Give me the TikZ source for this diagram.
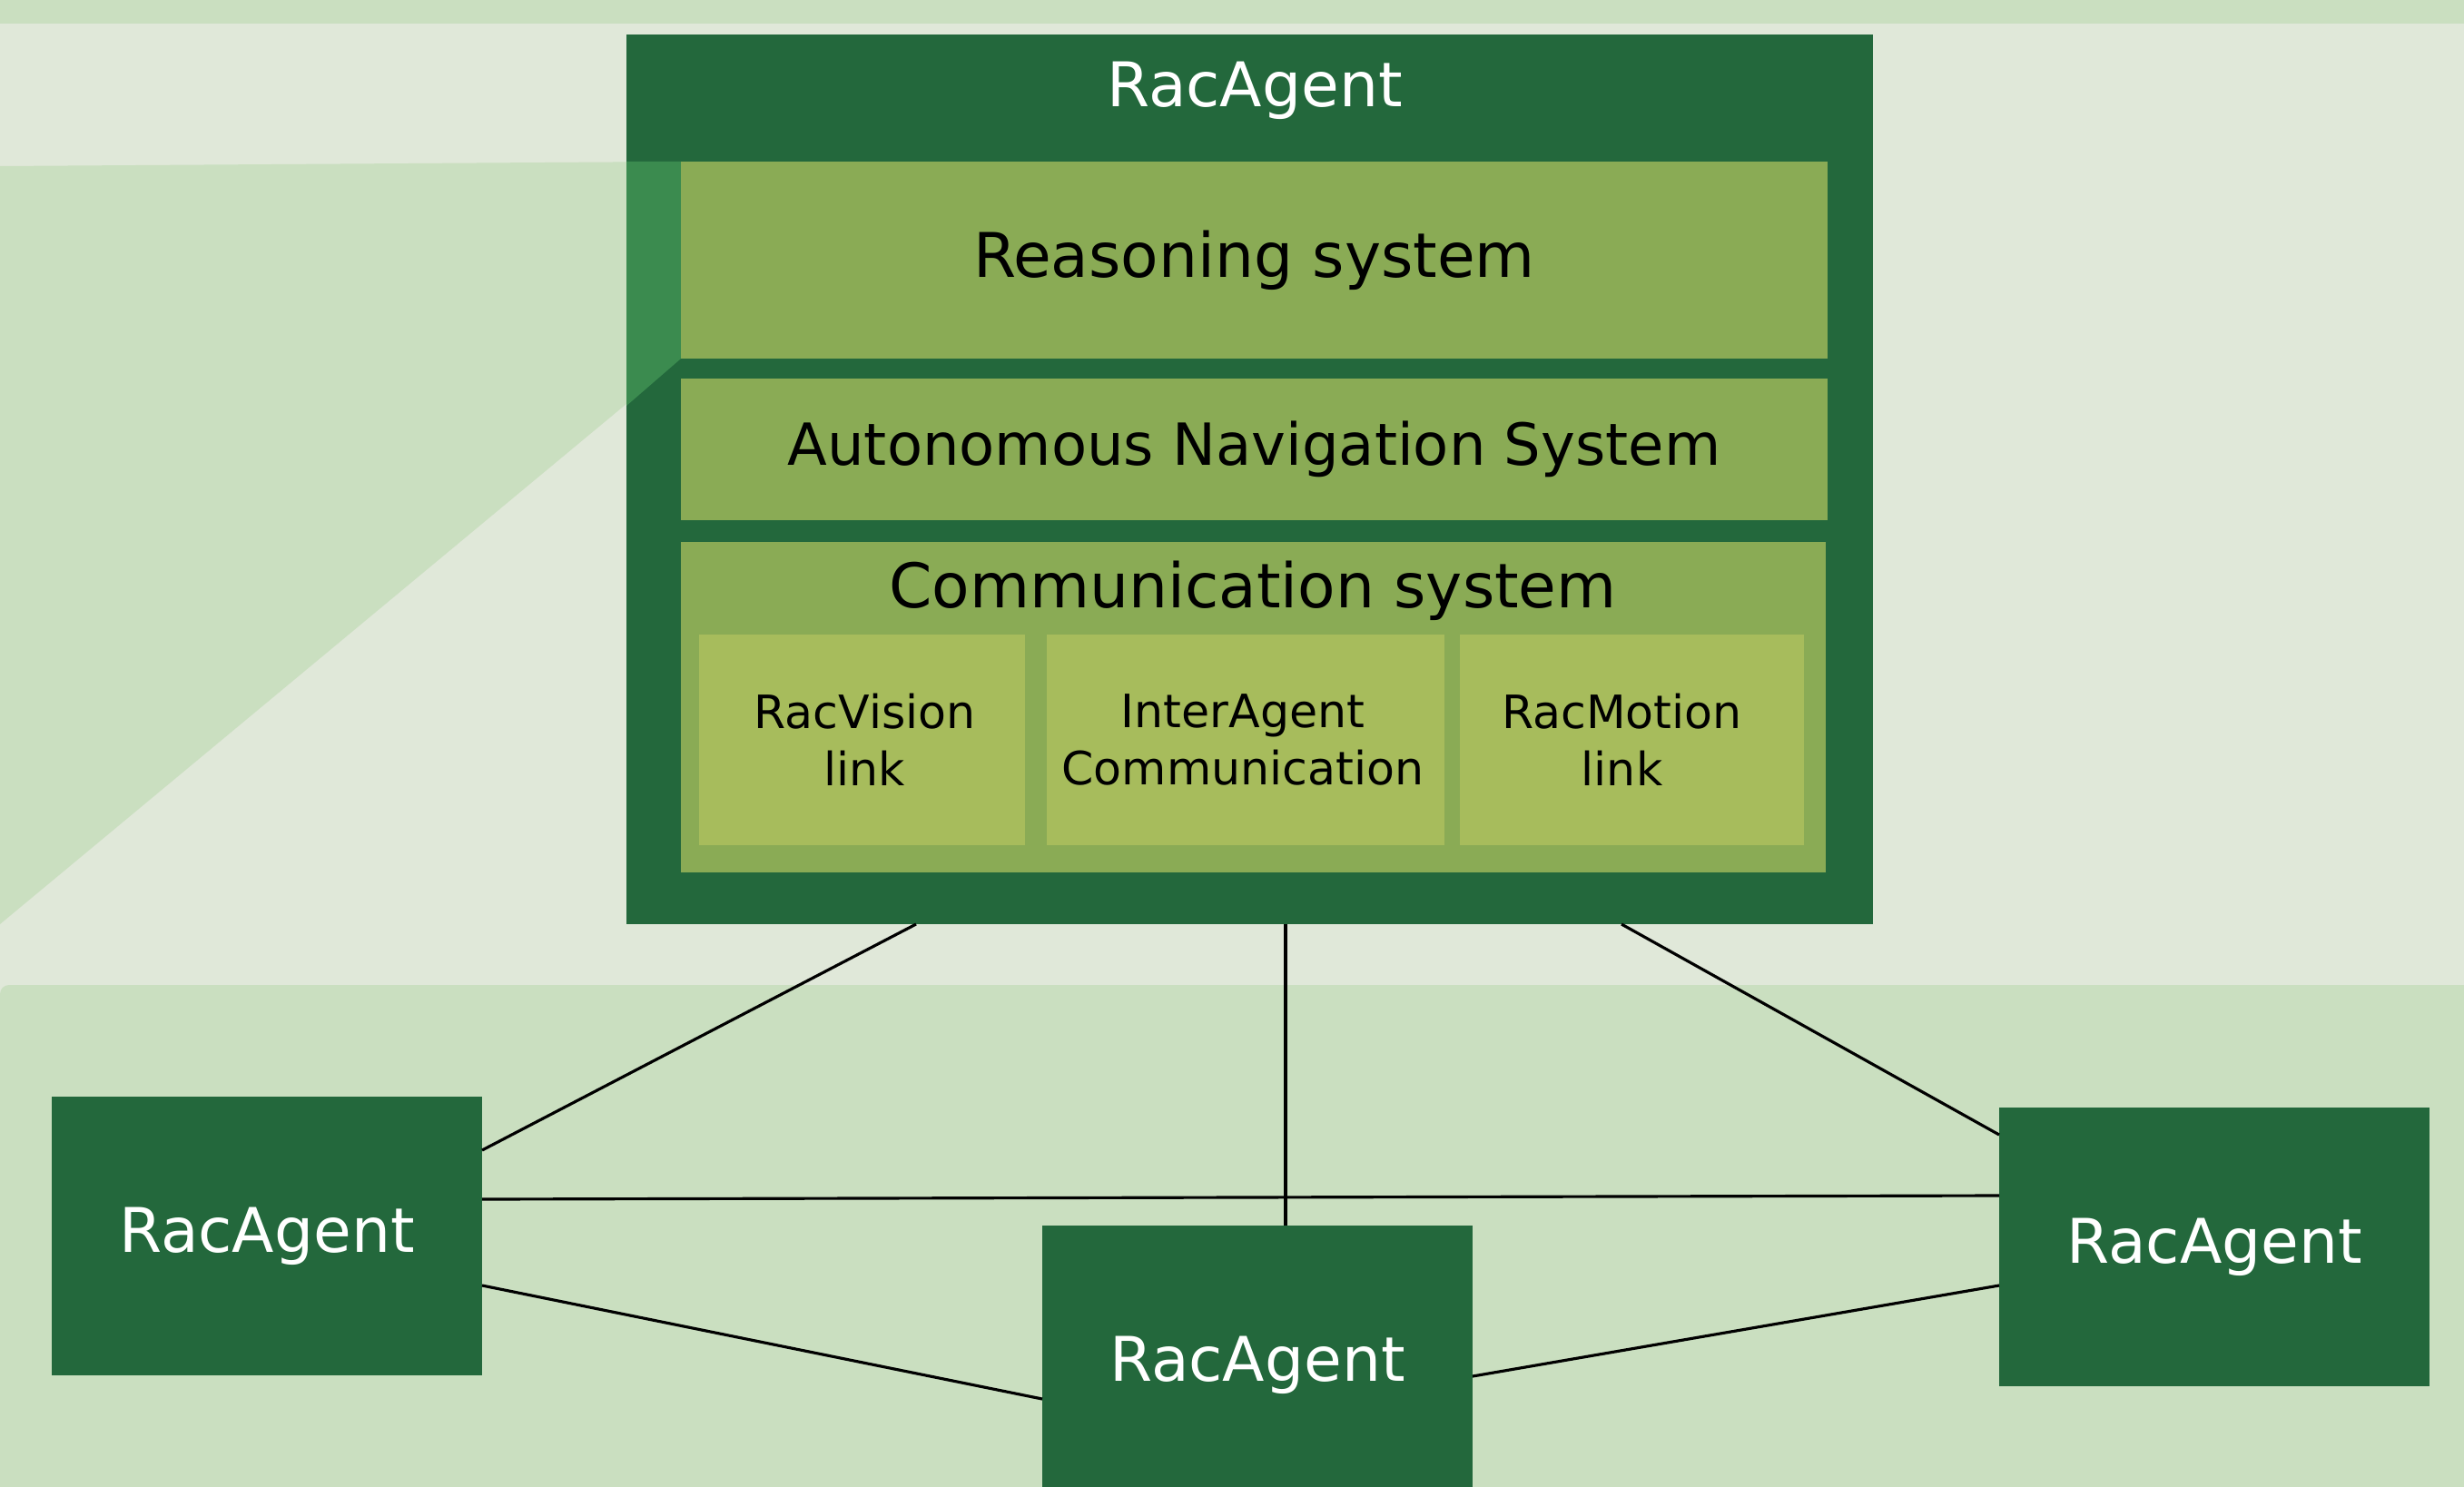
\documentclass[tikz,border=0pt]{standalone}
\usepackage{fontspec}
\setmainfont{DejaVu Sans}
\definecolor{bgpale}{HTML}{E0E8D9}
\definecolor{bandgreen}{HTML}{CADFC0}
\definecolor{racdark}{HTML}{23683C}
\definecolor{raclens}{HTML}{3B8B4F}
\definecolor{racolive}{HTML}{8AAB55}
\definecolor{raclight}{HTML}{A7BC5C}
\begin{document}
\begin{tikzpicture}[every node/.style={inner sep=0pt,outer sep=0pt},
  bigfont/.style={font=\fontsize{19.3}{23}\selectfont},
  agentbox/.style={bigfont,fill=racdark,text=white,minimum width=4.74cm,minimum height=3.07cm},
  sysbox/.style={bigfont,fill=racolive,minimum width=12.63cm},
  linkbox/.style={fill=raclight,minimum height=2.32cm},
  linktext/.style={align=center,font=\fontsize{14.4}{18}\selectfont},
  wire/.style={line width=0.9pt}]
  \useasboundingbox (0,0) rectangle (27.14,-16.37);
  \clip (0,0) rectangle (27.14,-16.37);
  % backdrop
  \fill[bgpale] (0,0) rectangle (27.14,-16.37);
  \fill[bandgreen] (0,0) rectangle (27.14,-0.26);
  \fill[bandgreen] (0,-1.83) -- (7.5,-1.78) -- (7.5,-3.95) -- (0,-10.18) -- cycle;
  \fill[bandgreen,rounded corners=0.1cm] (0,-10.85) rectangle (27.5,-17);
  % the zoomed agent
  \node[fill=racdark,minimum width=13.73cm,minimum height=9.8cm] (agent) at (13.765,-5.28) {};
  \node[bigfont,text=white] (title) at (13.82,-1.0) {RacAgent};
  \fill[raclens] (6.9,-1.78) -- (7.5,-1.78) -- (7.5,-3.95) -- (6.9,-4.47) -- cycle;
  \node[sysbox,minimum height=2.17cm] (reason) at (13.815,-2.865) {Reasoning system};
  \node[sysbox,minimum height=1.56cm,font=\fontsize{18.2}{22}\selectfont] (nav) at (13.815,-4.95) {Autonomous Navigation System};
  \node[fill=racolive,minimum width=12.61cm,minimum height=3.64cm] (comm) at (13.805,-7.79) {};
  \node[bigfont] (commtitle) at (13.8,-6.51) {Communication system};
  \foreach \nm/\x/\w/\dx/\txt in {vision/9.495/3.59/0.03/{RacVision\\link},
    inter/13.72/4.38/-0.03/{InterAgent\\Communication},
    motion/17.975/3.79/-0.11/{RacMotion\\link}} {
    \node[linkbox,minimum width=\w cm] (\nm) at (\x,-8.15) {};
    \node[linktext] at ([xshift=\dx cm]\nm.center) {\txt};
  }
  % other agents
  \node[agentbox] (ag1) at (2.94,-13.615) {RacAgent};
  \node[agentbox] (ag2) at (13.85,-15.035) {RacAgent};
  \node[agentbox] (ag3) at (24.39,-13.735) {RacAgent};
  \draw[wire] ([xshift=-3.675cm]agent.south) -- ([yshift=0.945cm]ag1.east);
  \draw[wire] ([xshift=0.395cm]agent.south) -- ([xshift=0.31cm]ag2.north);
  \draw[wire] ([xshift=4.095cm]agent.south) -- ([yshift=1.235cm]ag3.west);
  \draw[wire] ([yshift=0.405cm]ag1.east) -- ([yshift=0.565cm]ag3.west);
  \draw[wire] ([yshift=-0.545cm]ag1.east) -- ([yshift=-0.375cm]ag2.west);
  \draw[wire] ([yshift=-0.125cm]ag2.east) -- ([yshift=-0.425cm]ag3.west);
\end{tikzpicture}
\end{document}
